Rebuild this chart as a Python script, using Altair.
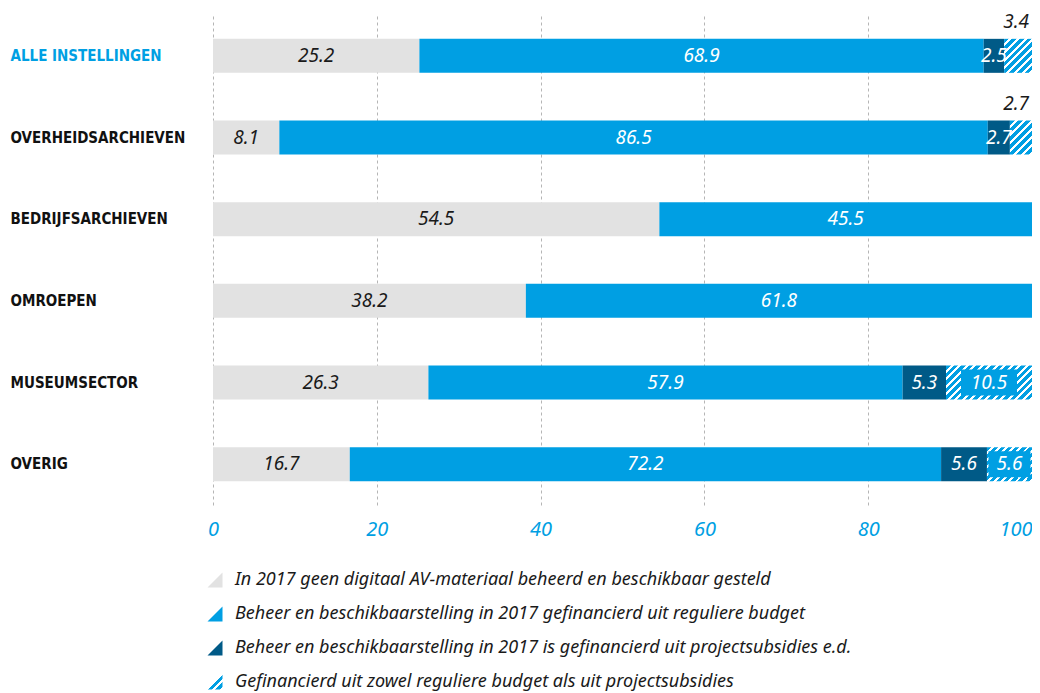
import altair as alt
import pandas as pd

categories = ["ALLE INSTELLINGEN", "OVERHEIDSARCHIEVEN", "BEDRIJFSARCHIEVEN",
              "OMROEPEN", "MUSEUMSECTOR", "OVERIG"]
geen = [25.2, 8.1, 54.5, 38.2, 26.3, 16.7]
regulier = [68.9, 86.5, 45.5, 61.8, 57.9, 72.2]
project = [2.5, 2.7, 0, 0, 5.3, 5.6]
beide = [3.4, 2.7, 0, 0, 10.5, 5.6]

series_keys = ["geen", "regulier", "project", "beide"]
legend_labels = [
    "In 2017 geen digitaal AV-materiaal beheerd en beschikbaar gesteld",
    "Beheer en beschikbaarstelling in 2017 gefinancierd uit reguliere budget",
    "Beheer en beschikbaarstelling in 2017 is gefinancierd uit projectsubsidies e.d.",
    "Gefinancierd uit zowel reguliere budget als uit projectsubsidies",
]
above_rows = ["ALLE INSTELLINGEN", "OVERHEIDSARCHIEVEN"]

GRAY = "#e2e2e2"
BLUE = "#009fe3"
DARK = "#005a87"
series_colors = [GRAY, BLUE, DARK, BLUE]

W_PLOT = 819
H_PLOT = 490
BAR_H = 34
PX = W_PLOT / 100.0

rows = []
for i, c in enumerate(categories):
    vals = [geen[i], regulier[i], project[i], beide[i]]
    start = 0.0
    for k, v in zip(series_keys, vals):
        if v > 0:
            rows.append({"cat": c, "series": k, "value": v, "start": start,
                         "end": min(start + v, 100.0), "label": f"{v:.1f}",
                         "above": (k == "beide" and c in above_rows)})
        start += v
df = pd.DataFrame(rows)

FONT = "Noto Sans"
xsc = alt.Scale(domain=[0, 100], nice=False, clamp=True)
ysc = alt.Scale(domain=categories, paddingInner=0, paddingOuter=0)

base = alt.Chart(df)

xax = alt.Axis(values=[0, 20, 40, 60, 80, 100], grid=True, gridDash=[3, 3],
               gridColor="#b5b5b5", gridWidth=1, domain=False, ticks=False,
               labelColor=BLUE, labelFont=FONT, labelFontStyle="italic",
               labelFontSize=20, labelPadding=14, labelBaseline="top",
               labelAlign=alt.expr("datum.value == 100 ? 'right' : 'center'"),
               title=None)
yax = alt.Axis(domain=False, ticks=False, grid=False, title=None,
               labelAlign="left", labelPadding=203,
               labelFont="DejaVu Sans Condensed", labelFontWeight="bold",
               labelFontSize=15, labelLimit=300,
               labelColor=alt.expr("datum.value == 'ALLE INSTELLINGEN' ? '%s' : '#111111'" % BLUE))

bars = base.mark_bar(size=BAR_H).encode(
    x=alt.X("start:Q", scale=xsc, axis=xax),
    x2="end:Q",
    y=alt.Y("cat:N", scale=ysc, axis=yax, sort=categories),
    color=alt.Color("series:N", scale=alt.Scale(domain=series_keys, range=series_colors), legend=None),
).transform_filter(alt.datum.series != "beide")


def stripe_stops(n, frac=0.6):
    stops = []
    for i in range(n):
        a = i / n
        b = (i + frac) / n
        c = (i + 1) / n
        stops += [alt.GradientStop(offset=a, color=BLUE),
                  alt.GradientStop(offset=b, color=BLUE),
                  alt.GradientStop(offset=b, color="#ffffff"),
                  alt.GradientStop(offset=c, color="#ffffff")]
    return stops


def hatch_gradient(w, h, period=7.5):
    k = (w + h) / (w * w + h * h)
    n = max(2, round((w + h) / period))
    return alt.LinearGradient(gradient="linear", stops=stripe_stops(n),
                              x1=0, y1=0, x2=k * w, y2=k * h)


layers = [bars]
for i, c in enumerate(categories):
    if beide[i] > 0:
        g = hatch_gradient(beide[i] * PX, BAR_H)
        layers.append(
            base.mark_bar(size=BAR_H, fill=g, strokeWidth=0).encode(
                x=alt.X("start:Q", scale=xsc), x2="end:Q",
                y=alt.Y("cat:N", scale=ysc, sort=categories),
            ).transform_filter((alt.datum.series == "beide") & (alt.datum.cat == c))
        )

# solid boxes behind labels inside hatched segments
for c, half in [("MUSEUMSECTOR", 28), ("OVERIG", 21)]:
    layers.append(
        base.mark_bar(size=26, color=BLUE, xOffset=-half, x2Offset=half).encode(
            x=alt.X("mid:Q", scale=xsc), x2="mid:Q",
            y=alt.Y("cat:N", scale=ysc, sort=categories),
        ).transform_calculate(mid="(datum.start + datum.end) / 2")
        .transform_filter((alt.datum.series == "beide") & (alt.datum.cat == c))
    )

labels_in = base.mark_text(font=FONT, fontStyle="italic", fontSize=19,
                           baseline="middle", align="center").encode(
    x=alt.X("mid:Q", scale=xsc),
    y=alt.Y("cat:N", scale=ysc, sort=categories),
    text="label:N",
    color=alt.condition(alt.datum.series == "geen", alt.value("#1a1a1a"), alt.value("#ffffff")),
).transform_calculate(mid="(datum.start + datum.end) / 2").transform_filter(
    alt.datum.above == False)

labels_above = base.mark_text(font=FONT, fontStyle="italic", fontSize=19,
                              baseline="middle", align="right", dy=-34, dx=-3,
                              color="#1a1a1a").encode(
    x=alt.X("end:Q", scale=xsc),
    y=alt.Y("cat:N", scale=ysc, sort=categories),
    text="label:N",
).transform_filter(alt.datum.above == True)

layers += [labels_in, labels_above]
main = alt.layer(*layers).properties(width=W_PLOT, height=H_PLOT)

# manual legend
ldf = pd.DataFrame({"key": series_keys, "text": legend_labels})
lysc = alt.Scale(domain=series_keys, paddingInner=0, paddingOuter=0)
tri = "M1,-1L1,1L-1,1Z"
lbase = alt.Chart(ldf)
licons = lbase.mark_point(shape=tri, size=225, filled=True, opacity=1, strokeWidth=0).encode(
    x=alt.value(2),
    y=alt.Y("key:N", scale=lysc, axis=None, sort=series_keys),
    color=alt.Color("key:N", scale=alt.Scale(domain=series_keys, range=series_colors), legend=None),
).transform_filter(alt.datum.key != "beide")
lhatch = lbase.mark_point(shape=tri, size=225, filled=True, opacity=1, strokeWidth=0,
                          fill=hatch_gradient(15, 15, 7.0)).encode(
    x=alt.value(2),
    y=alt.Y("key:N", scale=lysc, axis=None, sort=series_keys),
).transform_filter(alt.datum.key == "beide")
ltext = lbase.mark_text(font=FONT, fontStyle="italic", fontSize=18, align="left",
                        baseline="middle", color="#1a1a1a").encode(
    x=alt.value(22),
    y=alt.Y("key:N", scale=lysc, axis=None, sort=series_keys),
    text="text:N",
)
legend = alt.layer(licons, lhatch, ltext).properties(width=W_PLOT, height=136)

chart = alt.vconcat(main, legend, spacing=24).properties(
    padding={"left": 2, "top": 4, "right": 0, "bottom": 0},
    background="white",
).configure_view(strokeWidth=0, stroke=None)

chart.save("out.html", embed_options={"renderer": "svg", "actions": False})
